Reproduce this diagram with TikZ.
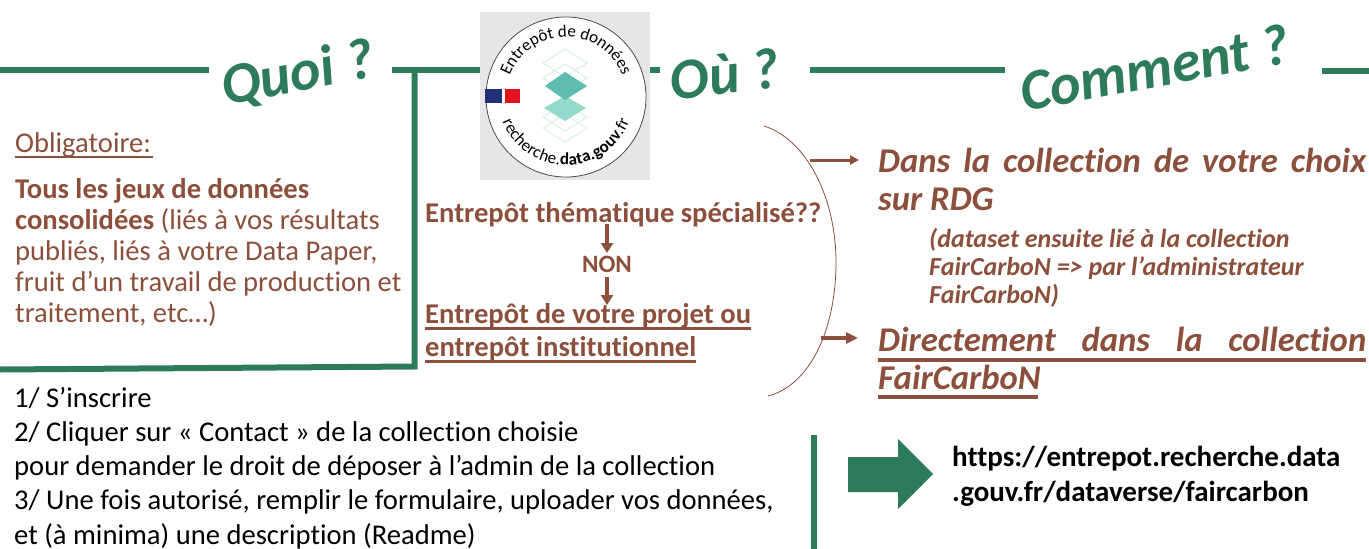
\documentclass[tikz,border=0pt]{standalone}
\usepackage{fontspec}
\setmainfont[Ligatures=NoCommon]{Carlito}
\usetikzlibrary{arrows.meta,decorations.text}

\definecolor{vert}{HTML}{2E7B5B}
\definecolor{brun}{HTML}{8B4F3B}
\definecolor{fond}{HTML}{E6E6E6}
\definecolor{tealA}{HTML}{5FBDAE}
\definecolor{tealB}{HTML}{93DACB}
\definecolor{tealC}{HTML}{CDEEE6}
\definecolor{bleuF}{HTML}{1F2F78}
\definecolor{rougeF}{HTML}{E1131F}

\newcommand{\souligne}[4]{\rlap{\rule[-#1]{#3}{#2}}\makebox[#3][s]{#4}}

\tikzset{
	titre/.style={text=vert, font=\fontsize{58}{58}\selectfont\bfseries\itshape, anchor=base},
	corps/.style={text=brun, font=\fontsize{28.6}{31}\selectfont, anchor=base west, align=left, inner sep=0pt},
	gras/.style={corps, font=\fontsize{28.6}{33.5}\selectfont\bfseries},
	grand/.style={corps, font=\fontsize{34.7}{37.5}\selectfont\bfseries\itshape},
	petit/.style={corps, font=\fontsize{26}{28}\selectfont\bfseries\itshape},
	noir/.style={corps, text=black, font=\fontsize{28.6}{34.2}\selectfont},
	trait/.style={vert, line width=6pt},
	fleche/.style={brun, line width=4.5pt, -{Triangle[length=10pt,width=12pt]}},
	flechette/.style={brun, line width=3pt, -{Triangle[length=9pt,width=9pt]}},
	flechetteB/.style={brun, line width=4pt, -{Triangle[length=12pt,width=11pt]}},
	losange/.style={draw=tealC, line width=0.8pt}
}

\begin{document}
\begin{tikzpicture}[x=1pt,y=-1pt]
	\useasboundingbox (0,0) rectangle (1369,549);

%lignes vertes
	\draw[trait] (0,70) -- (209,70);
	\draw[trait] (392,70) -- (480,70);
	\draw[trait] (650,70) -- (660,70);
	\draw[trait] (810,70) -- (1005,70);
	\draw[trait] (1322,71) -- (1369,71);
	\draw[trait] (414.5,70) -- (414.5,366.5) -- (0,369.5);
	\draw[trait] (814,435) -- (814,549);

%titres
	\node[titre, rotate=11] (quoi) at (301,91) {Quoi ?};
	\node[titre, rotate=7] (ou) at (727,94) {Où ?};
	\node[titre, rotate=10.5] (comment) at (1158,87) {Comment ?};

%logo
	\fill[fond] (480,12) rectangle (650,180);
	\draw[draw=black!70, fill=white, line width=0.8pt] (566,97) circle (80);
	\fill[bleuF] (485,89) rectangle (502,103);
	\fill[rougeF] (505,89) rectangle (520,103);
	\foreach \yy in {63,78,117,128} {
		\draw[losange] (565,\yy-14) -- (587,\yy) -- (565,\yy+14) -- (543,\yy) -- cycle;
	}
	\fill[tealB] (565,96) -- (586,108) -- (565,121) -- (544,108) -- cycle;
	\fill[tealA] (565,72) -- (587,86) -- (565,100) -- (545,86) -- cycle;
	\path[postaction={decorate, decoration={text along path, text align=center,
		text={|\fontsize{17}{18}\selectfont|Entrepôt de données}}}]
		(506,97) arc (180:360:60);
	\path[postaction={decorate, decoration={text along path, text align=fit to path,
		text={|\fontsize{17}{18}\selectfont|recherche.|\fontsize{17}{18}\selectfont\bfseries|data.gouv|\fontsize{17}{18}\selectfont|.fr}}}]
		(566,97) ++(159:68) arc (159:21:68);

%colonne quoi
	\node[corps] (oblig) at (15,152) {\souligne{6pt}{2.5pt}{138pt}{Obligatoire:}};
	\node[corps, anchor=north west] (tous) at (15,178) {\textbf{Tous les jeux de données}\\
		\textbf{consolidées} (liés à vos résultats\\
		publiés, liés à votre Data Paper,\\
		fruit d’un travail de production et\\
		traitement, etc…)};

%colonne ou
	\node[gras] (them) at (425,222) {Entrepôt thématique spécialisé??};
	\node[gras, anchor=base, font=\fontsize{25}{25}\selectfont\bfseries] (non) at (607,272) {NON};
	\node[gras, anchor=north west] (projet) at (425,303) {\souligne{6.5pt}{3pt}{326pt}{Entrepôt de votre projet ou}\\
		\souligne{6.5pt}{3pt}{271pt}{entrepôt institutionnel}};
	\coordinate (a1) at (607,224);
	\coordinate (a2) at (607,253);
	\coordinate (a3) at (607,277);
	\coordinate (a4) at (607,305);
	\draw[fleche] (a1) -- (a2);
	\draw[fleche] (a3) -- (a4);

%accolade
	\draw[brun, line width=0.8pt] (764,126) .. controls (808,140) and (836,200) .. (836,262) .. controls (836,330) and (810,385) .. (768,396);
	\coordinate (b1) at (810,160);
	\coordinate (b2) at (859,160);
	\coordinate (b3) at (821,338);
	\coordinate (b4) at (858,338);
	\draw[flechette] (b1) -- (b2);
	\draw[flechetteB] (b3) -- (b4);

%colonne comment
	\node[grand, anchor=north west] (dans) at (878,148) {\makebox[488pt][s]{Dans la collection de votre choix}\\sur RDG};
	\node[petit, anchor=north west] (lien) at (929,228) {(dataset ensuite lié à la collection\\
		FairCarboN => par l’administrateur\\
		FairCarboN)};
	\node[grand, anchor=north west] (direct) at (878,327) {\souligne{10pt}{4pt}{488pt}{Directement dans la collection}\\
		\souligne{10pt}{4pt}{160pt}{FairCarboN}};

%en bas
	\node[noir, anchor=north west] (etapes) at (14,387) {1/ S’inscrire\\
		2/ Cliquer sur « Contact » de la collection choisie\\
		pour demander le droit de déposer à l’admin de la collection\\
		3/ Une fois autorisé, remplir le formulaire, uploader vos données,\\
		et (à minima) une description (Readme)};
	\fill[vert] (848,457) -- (898,457) -- (898,439) -- (933,474) -- (898,509) -- (898,492) -- (848,492) -- cycle;
	\node[corps, text=black, anchor=north west, font=\fontsize{29}{35}\selectfont\bfseries] (url) at (952,445.5) {https://entrepot.recherche.data\\.gouv.fr/dataverse/faircarbon};
\end{tikzpicture}
\end{document}
